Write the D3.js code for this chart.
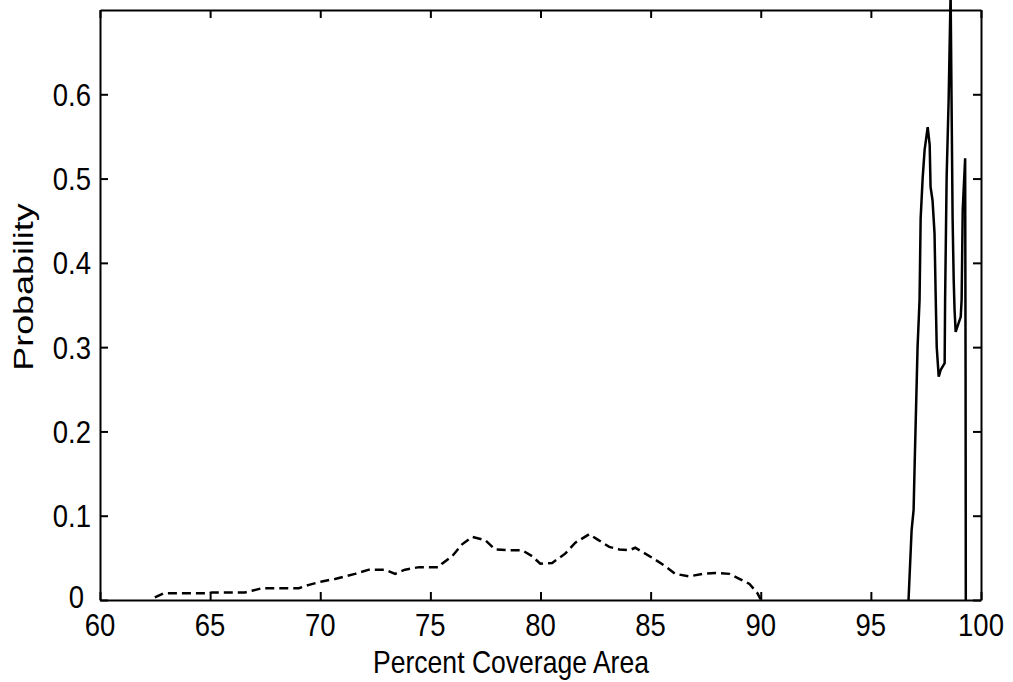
<!DOCTYPE html>
<html>
<head>
<meta charset="utf-8">
<script src="https://cdn.jsdelivr.net/npm/d3@7"></script>
<style>
  body { margin: 0; background: #fff; }
  svg text { font-family: "Liberation Sans", Arial, sans-serif; fill: #000; }
</style>
</head>
<body>
<div id="mydiv"></div>
<script>
// dashed series (wide spread, ~62-90 %)
var dashX = [62.49, 62.90, 64.94, 65.08, 66.58, 66.90, 67.35, 69.03, 69.49, 70.08,
             70.67, 71.58, 72.21, 72.94, 73.40, 73.85, 74.49, 75.40, 75.53, 75.99,
             76.44, 76.90, 77.49, 77.94, 78.58, 79.17, 79.62, 79.99, 80.53, 81.12,
             81.58, 82.21, 82.58, 83.12, 83.58, 84.03, 84.30, 84.62, 85.08, 85.67,
             86.12, 86.76, 87.35, 87.94, 88.58, 89.03, 89.49, 89.85, 89.99];
var dashY = [0.003, 0.008, 0.008, 0.009, 0.009, 0.011, 0.014, 0.014, 0.018, 0.022,
             0.025, 0.031, 0.036, 0.036, 0.031, 0.036, 0.039, 0.039, 0.043, 0.052,
             0.066, 0.075, 0.071, 0.060, 0.059, 0.059, 0.052, 0.043, 0.044, 0.055,
             0.068, 0.078, 0.072, 0.063, 0.060, 0.059, 0.062, 0.057, 0.050, 0.040,
             0.031, 0.028, 0.031, 0.032, 0.031, 0.025, 0.019, 0.008, 0.001];

// solid series (narrow, ~96.7-99.3 %)
var solidX = [96.71, 96.76, 96.85, 96.94, 96.99, 97.12, 97.21, 97.26, 97.35, 97.44,
              97.58, 97.67, 97.71, 97.80, 97.89, 97.94, 97.99, 98.08, 98.17, 98.35,
              98.37, 98.44, 98.53, 98.62, 98.71, 98.76, 98.80, 98.85, 98.99, 99.08,
              99.12, 99.17, 99.28, 99.30, 99.31];
var solidY = [0, 0.030, 0.083, 0.107, 0.163, 0.300, 0.356, 0.453, 0.500, 0.534,
              0.561, 0.540, 0.490, 0.474, 0.435, 0.364, 0.300, 0.265, 0.273, 0.281,
              0.356, 0.502, 0.593, 0.72, 0.454, 0.380, 0.344, 0.318, 0.329, 0.336,
              0.356, 0.463, 0.524, 0.263, 0];

var xTicks = [60, 65, 70, 75, 80, 85, 90, 95, 100];
var yTicks = [0, 0.1, 0.2, 0.3, 0.4, 0.5, 0.6];

var width = 1013;
var height = 682;

function main() {
    var svg = d3.select('#mydiv')
        .append('svg')
        .attr('width', width)
        .attr('height', height);

    var x = d3.scaleLinear().domain([60, 100]).range([100, 981]);
    var y = d3.scaleLinear().domain([0, 0.7]).range([600, 10]);

    // curves
    var line = d3.line()
        .x(function (d) { return x(d[0]); })
        .y(function (d) { return y(d[1]); });

    svg.append('path')
        .datum(d3.zip(dashX, dashY))
        .attr('d', line)
        .attr('fill', 'none')
        .attr('stroke', '#000')
        .attr('stroke-width', 2.5)
        .attr('stroke-dasharray', '9,5');

    svg.append('path')
        .datum(d3.zip(solidX, solidY))
        .attr('d', line)
        .attr('fill', 'none')
        .attr('stroke', '#000')
        .attr('stroke-width', 2.5);

    // box + inward ticks on all four sides
    var axes = [
        [d3.axisBottom(x).tickValues(xTicks), 'translate(0,600)'],
        [d3.axisTop(x).tickValues(xTicks), 'translate(0,10)'],
        [d3.axisLeft(y).tickValues(yTicks), 'translate(100,0)'],
        [d3.axisRight(y).tickValues(yTicks), 'translate(981,0)']
    ];
    axes.forEach(function (a) {
        var g = svg.append('g')
            .attr('transform', a[1])
            .call(a[0].tickSizeInner(-8).tickSizeOuter(0).tickFormat(''));
        g.selectAll('path, line')
            .attr('stroke', '#000')
            .attr('stroke-width', 2);
    });

    // tick labels (squeezed sideways a bit, like the scanned original)
    svg.append('g').selectAll('text')
        .data(xTicks)
        .enter()
        .append('text')
        .attr('transform', function (d) { return 'translate(' + x(d) + ',636) scale(0.86,1)'; })
        .attr('text-anchor', 'middle')
        .style('font-size', '32px')
        .text(function (d) { return d; });

    svg.append('g').selectAll('text')
        .data(yTicks)
        .enter()
        .append('text')
        .attr('transform', function (d) {
            // the bottom "0" sits a bit further left, clear of the "60"
            var tx = d === 0 ? 84 : 91;
            var ty = d === 0 ? y(d) - 4 : y(d);
            return 'translate(' + tx + ',' + ty + ') scale(0.86,1)';
        })
        .attr('text-anchor', 'end')
        .attr('dy', '0.36em')
        .style('font-size', '32px')
        .text(function (d) { return d === 0 ? '0' : d3.format('.1f')(d); });

    // axis titles
    svg.append('text')
        .attr('transform', 'translate(511,673) scale(0.83,1)')
        .attr('text-anchor', 'middle')
        .style('font-size', '32px')
        .text('Percent Coverage Area');

    svg.append('text')
        .attr('transform', 'translate(33,287) rotate(-90) scale(1.12,0.86)')
        .attr('text-anchor', 'middle')
        .style('font-size', '32px')
        .text('Probability');
}

main();
</script>
</body>
</html>
